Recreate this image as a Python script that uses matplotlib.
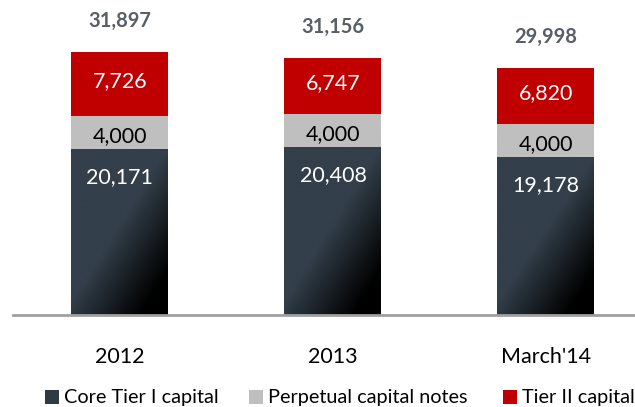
import matplotlib
matplotlib.use("Agg")
import matplotlib.pyplot as plt
import numpy as np
from matplotlib.patches import Rectangle
from matplotlib.colors import LinearSegmentedColormap

categories = ["2012", "2013", "March'14"]
core_tier1 = [20171, 20408, 19178]
perpetual = [4000, 4000, 4000]
tier2 = [7726, 6747, 6820]
totals = [31897, 31156, 29998]
legend_labels = ["Core Tier I capital", "Perpetual capital notes", "Tier II capital"]
legend_colors = ["#2e3a44", "#bfbfbf", "#c00000"]

plt.rcParams['font.family'] = ['Lato', 'DejaVu Sans']

W, H = 635, 407
fig = plt.figure(figsize=(W/100, H/100), dpi=100)
base_px = 315
ax = fig.add_axes([13/W, (H-base_px)/H, 1-13/W, base_px/H])

x = np.arange(len(categories))
width = 0.455
ymax = base_px * totals[0] / 263.0

slate = "#333f4a"
cmap = LinearSegmentedColormap.from_list("g", [(0, slate), (0.55, slate), (1.0, "#000000")])
gx, gy = np.meshgrid(np.linspace(0, 1, 100), np.linspace(0, 1, 200))
grad = np.clip(0.55*gx + 0.6*(1-gy), 0, 1)  # origin lower: gy=0 bottom

core_bars = ax.bar(x, core_tier1, width, color=slate, zorder=2)
for b in core_bars:
    x0, w, h = b.get_x(), b.get_width(), b.get_height()
    im = ax.imshow(grad, cmap=cmap, vmin=0, vmax=1, origin='lower',
                   extent=[x0, x0+w, 0, h], aspect='auto', zorder=2.5,
                   interpolation='bilinear')
    im.set_clip_path(b)
ax.set_xlim(-0.502, 2.418)
ax.set_ylim(0, ymax)

ax.bar(x, perpetual, width, bottom=core_tier1, color="#bfbfbf", zorder=2)
bottom2 = [a + b for a, b in zip(core_tier1, perpetual)]
ax.bar(x, tier2, width, bottom=bottom2, color="#c00000", zorder=2)

px = ymax / base_px  # data units per pixel
for i in range(len(categories)):
    ax.text(x[i], core_tier1[i] - 28*px, f"{core_tier1[i]:,}", ha='center', va='center',
            color='white', fontsize=15.5, zorder=5)
    ax.text(x[i], core_tier1[i] + perpetual[i]/2 - 4*px, f"{perpetual[i]:,}", ha='center', va='center',
            color='black', fontsize=15.5, zorder=5)
    ax.text(x[i], bottom2[i] + tier2[i]/2 + 3*px, f"{tier2[i]:,}", ha='center', va='center',
            color='white', fontsize=15.5, zorder=5)
    ax.text(x[i], totals[i] + 31*px, f"{totals[i]:,}", ha='center', va='center',
            color='#595f66', fontsize=14.5, fontweight='bold', zorder=5)

for s in ['top', 'right', 'left']:
    ax.spines[s].set_visible(False)
ax.spines['bottom'].set_color('#a0a0a0')
ax.spines['bottom'].set_linewidth(2)
ax.spines['bottom'].set_zorder(6)
ax.set_yticks([])
ax.set_xticks(x)
ax.set_xticklabels(categories, fontsize=15.5, color='black')
ax.tick_params(axis='x', length=0, pad=23)

# legend (manual placement)
marker_x = [45, 249, 503]
ly = 397
msz = 14
for mx, lab, col in zip(marker_x, legend_labels, legend_colors):
    fig.patches.append(Rectangle((mx/W, (H-ly-msz/2)/H), msz/W, msz/H,
                                 transform=fig.transFigure, facecolor=col,
                                 edgecolor='none'))
    fig.text((mx+msz+5)/W, (H-ly)/H, lab, ha='left', va='center',
             fontsize=14.3, color='black')

fig.savefig("out.png", dpi=100)
